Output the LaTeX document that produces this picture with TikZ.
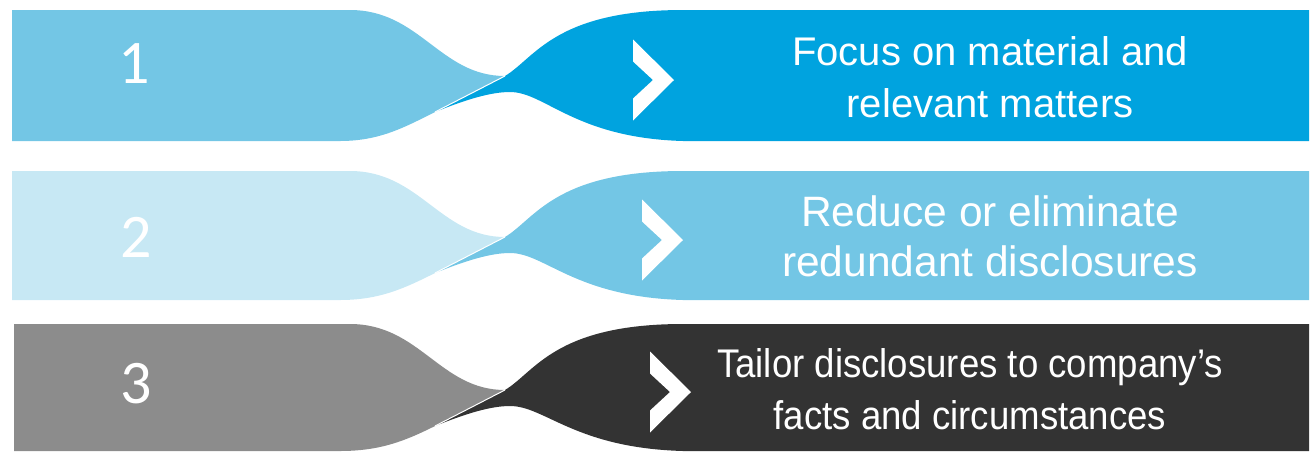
\documentclass[tikz,border=0pt]{standalone}
\usepackage{fontspec}
\setmainfont{Liberation Sans}
\newfontfamily\numfont{Carlito}
\newfontfamily\narrowfont{Liberation Sans}[FakeStretch=0.915]
\usepackage{tikz}
\usetikzlibrary{positioning}

% one twisted band: #1 top, #2 height, #3 left edge, #4 left colour, #5 right colour, #6 chevron x
\newcommand{\ribbon}[6]{%
  \begin{scope}[shift={(0,#1)}]
    \fill[#4] (#3,0) -- (350,0) .. controls (420,0) and (440,66) .. (505,66)
      -- (435,102) .. controls (405,117) and (380,#2) .. (340,#2) -- (#3,#2) -- cycle;
    \fill[#5] (435,102) -- (505,66) .. controls (535,48) and (555,0) .. (683,0)
      -- (1309,0) -- (1309,#2) -- (683,#2)
      .. controls (575,#2-3) and (545,82) .. (510,82)
      .. controls (490,82) and (465,90) .. (435,102) -- cycle;
    \draw[white,line width=1pt] (435,102) -- (505,66);
    \fill[white,shift={(#6,#2/2+4.5)}] (0,-40.5) -- (41,0) -- (0,40.5) -- (0,18.5)
      -- (20,0) -- (0,-18.5) -- cycle;
  \end{scope}}

\begin{document}
\begin{tikzpicture}[x=1pt,y=-1pt,
    num/.style={text=white,inner sep=0pt,font=\numfont\fontsize{62}{62}\selectfont},
    msg/.style={text=white,inner sep=0pt,align=center,font=\fontsize{40}{52}\selectfont}]
  \definecolor{skyblue}{HTML}{73C6E5}
  \definecolor{deepblue}{HTML}{00A3DF}
  \definecolor{paleblue}{HTML}{C7E8F4}
  \definecolor{midgrey}{HTML}{8C8C8C}
  \definecolor{darkgrey}{HTML}{333333}
  \useasboundingbox (0,0) rectangle (1314,451);

  \ribbon{10}{131}{12}{skyblue}{deepblue}{633}
  \ribbon{171}{129}{12}{paleblue}{skyblue}{642}
  \ribbon{324}{127}{14}{midgrey}{darkgrey}{650}

  \node[num] (one) at (134,64) {1};
  \node[num] (two) at (136,237) {2};
  \node[num] (three) at (136,384) {3};

  \node[msg] (focus) at (990,77) {Focus on material and\\relevant matters};
  \node[msg,font=\fontsize{42.5}{50}\selectfont] (reduce) at (990,236) {Reduce or eliminate\\redundant disclosures};
  \node[msg,font=\narrowfont\fontsize{40}{52}\selectfont] (tailor) at (970,389) {Tailor disclosures to company’s\\facts and circumstances};
\end{tikzpicture}
\end{document}
